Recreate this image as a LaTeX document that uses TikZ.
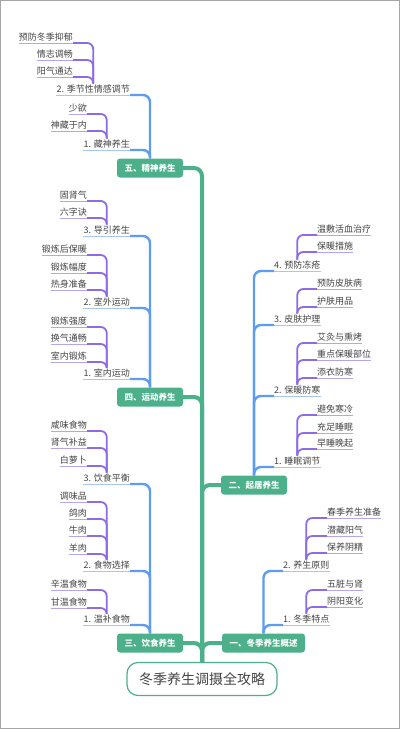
\documentclass[tikz,border=0pt]{standalone}
\usepackage{fontspec}
\newfontfamily\cjk{Noto Sans CJK SC}
\definecolor{mmgreen}{HTML}{4CB08A}
\definecolor{mmblue}{HTML}{5D9CF0}
\definecolor{mmpurple}{HTML}{8D6BE8}
\definecolor{ulpurple}{HTML}{B5A5EC}
\definecolor{ulblue}{HTML}{A7C6F3}
\definecolor{txtgray}{HTML}{444444}

\begin{document}
\begin{tikzpicture}[x=1pt,y=-1pt]
\tikzstyle{leaf}=[font=\cjk\fontsize{9}{10}\selectfont, text=txtgray, inner xsep=0pt, inner ysep=1pt, text height=7.5pt, text depth=1.5pt]
\tikzstyle{sec}=[font=\cjk\fontsize{8.5}{10}\selectfont\bfseries, text=white, fill=mmgreen, rounded corners=3pt, inner xsep=7.5pt, minimum height=19pt]
\tikzstyle{root}=[font=\cjk\fontsize{14}{16}\selectfont, text=txtgray, fill=white, draw=mmgreen, line width=1.2pt, rounded corners=11pt, inner xsep=12pt, minimum height=33pt]
\tikzstyle{ul}=[ulpurple, line width=0.8pt]
\tikzstyle{ulb}=[ulblue, line width=0.8pt]
\tikzstyle{brk}=[mmpurple, line width=1.8pt, rounded corners=6pt]
\tikzstyle{bra}=[mmblue, line width=2.4pt, rounded corners=7pt]
\tikzstyle{trunk}=[mmgreen, line width=4pt, rounded corners=8pt]
\useasboundingbox (0,0) rectangle (400,729);
\fill[white] (0,0) rectangle (400,729);
\draw[gray!70, line width=1pt] (0.5,0.5) rectangle (399.5,728.5);
%root
\node[root] (root) at (202,679) {冬季养生调摄全攻略};
%5
\node[sec] (s5) at (150,168) {五、精神养生};
\node[leaf, anchor=south east] (s5b) at (130,95) {2. 季节性情感调节};
\node[leaf, anchor=south east] (s5b1) at (73,43) {预防冬季抑郁};
\node[leaf, anchor=south east] (s5b2) at (73,60) {情志调畅};
\node[leaf, anchor=south east] (s5b3) at (73,77) {阳气通达};
\node[leaf, anchor=south east] (s5a) at (130,150) {1. 藏神养生};
\node[leaf, anchor=south east] (s5a1) at (87,114) {少欲};
\node[leaf, anchor=south east] (s5a2) at (87,131) {神藏于内};
%4
\node[sec] (s4) at (150,397) {四、运动养生};
\node[leaf, anchor=south east] (s4c) at (130,236) {3. 导引养生};
\node[leaf, anchor=south east] (s4c1) at (87,201) {固肾气};
\node[leaf, anchor=south east] (s4c2) at (87,218) {六字诀};
\node[leaf, anchor=south east] (s4b) at (130,308) {2. 室外运动};
\node[leaf, anchor=south east] (s4b1) at (87,255) {锻炼后保暖};
\node[leaf, anchor=south east] (s4b2) at (87,273) {锻炼幅度};
\node[leaf, anchor=south east] (s4b3) at (87,290) {热身准备};
\node[leaf, anchor=south east] (s4a) at (130,379) {1. 室内运动};
\node[leaf, anchor=south east] (s4a1) at (87,327) {锻炼强度};
\node[leaf, anchor=south east] (s4a2) at (87,344) {换气通畅};
\node[leaf, anchor=south east] (s4a3) at (87,362) {室内锻炼};
%3
\node[sec] (s3) at (150,643) {三、饮食养生};
\node[leaf, anchor=south east] (s3c) at (130,484) {3. 饮食平衡};
\node[leaf, anchor=south east] (s3c1) at (87,431) {咸味食物};
\node[leaf, anchor=south east] (s3c2) at (87,448) {肾气补益};
\node[leaf, anchor=south east] (s3c3) at (87,466) {白萝卜};
\node[leaf, anchor=south east] (s3b) at (130,571) {2. 食物选择};
\node[leaf, anchor=south east] (s3b1) at (87,502) {调味品};
\node[leaf, anchor=south east] (s3b2) at (87,519) {鸽肉};
\node[leaf, anchor=south east] (s3b3) at (87,536) {牛肉};
\node[leaf, anchor=south east] (s3b4) at (87,554) {羊肉};
\node[leaf, anchor=south east] (s3a) at (130,625) {1. 温补食物};
\node[leaf, anchor=south east] (s3a1) at (87,590) {辛温食物};
\node[leaf, anchor=south east] (s3a2) at (87,608) {甘温食物};
%2
\node[sec] (s2) at (254,485) {二、起居养生};
\node[leaf, anchor=south west] (s2d) at (274,271) {4. 预防冻疮};
\node[leaf, anchor=south west] (s2d1) at (317,235) {温敷活血治疗};
\node[leaf, anchor=south west] (s2d2) at (317,252) {保暖措施};
\node[leaf, anchor=south west] (s2c) at (274,325) {3. 皮肤护理};
\node[leaf, anchor=south west] (s2c1) at (317,289) {预防皮肤病};
\node[leaf, anchor=south west] (s2c2) at (317,307) {护肤用品};
\node[leaf, anchor=south west] (s2b) at (274,396) {2. 保暖防寒};
\node[leaf, anchor=south west] (s2b1) at (317,343) {艾灸与熏烤};
\node[leaf, anchor=south west] (s2b2) at (317,360) {重点保暖部位};
\node[leaf, anchor=south west] (s2b3) at (317,378) {添衣防寒};
\node[leaf, anchor=south west] (s2a) at (274,467) {1. 睡眠调节};
\node[leaf, anchor=south west] (s2a1) at (317,415) {避免寒冷};
\node[leaf, anchor=south west] (s2a2) at (317,433) {充足睡眠};
\node[leaf, anchor=south west] (s2a3) at (317,449) {早睡晚起};
%1
\node[sec] (s1) at (263.5,643) {一、冬季养生概述};
\node[leaf, anchor=south west] (s1b) at (283,571) {2. 养生原则};
\node[leaf, anchor=south west] (s1b1) at (327,518) {春季养生准备};
\node[leaf, anchor=south west] (s1b2) at (327,536) {潜藏阳气};
\node[leaf, anchor=south west] (s1b3) at (327,553) {保养阴精};
\node[leaf, anchor=south west] (s1a) at (283,625) {1. 冬季特点};
\node[leaf, anchor=south west] (s1a1) at (327,590) {五脏与肾};
\node[leaf, anchor=south west] (s1a2) at (327,607) {阴阳变化};
%trunk
\draw[trunk] (s5.east) -| (root.north);
\draw[trunk] (s4.east) -| (root.north);
\draw[trunk] (s3.east) -| (root.north);
\draw[trunk] (s2.west) -| (root.north);
\draw[trunk] (s1.west) -| (root.north);
%5 lines
\draw[ulb] (s5b.south west) -- (s5b.south east); \draw[bra] (s5b.south east) -| (s5.north);
\draw[ulb] (s5a.south west) -- (s5a.south east); \draw[bra] (s5a.south east) -| (s5.north);
\draw[ul] (s5b1.south west) -- (s5b1.south east); \draw[brk] (s5b1.south east) -| (s5b.north);
\draw[ul] (s5b2.south west) -- (s5b2.south east); \draw[brk] (s5b2.south east) -| (s5b.north);
\draw[ul] (s5b3.south west) -- (s5b3.south east); \draw[brk] (s5b3.south east) -| (s5b.north);
\draw[ul] (s5a1.south west) -- (s5a1.south east); \draw[brk] (s5a1.south east) -| (s5a.north);
\draw[ul] (s5a2.south west) -- (s5a2.south east); \draw[brk] (s5a2.south east) -| (s5a.north);
%4 lines
\draw[ulb] (s4c.south west) -- (s4c.south east); \draw[bra] (s4c.south east) -| (s4.north);
\draw[ulb] (s4b.south west) -- (s4b.south east); \draw[bra] (s4b.south east) -| (s4.north);
\draw[ulb] (s4a.south west) -- (s4a.south east); \draw[bra] (s4a.south east) -| (s4.north);
\draw[ul] (s4c1.south west) -- (s4c1.south east); \draw[brk] (s4c1.south east) -| (s4c.north);
\draw[ul] (s4c2.south west) -- (s4c2.south east); \draw[brk] (s4c2.south east) -| (s4c.north);
\draw[ul] (s4b1.south west) -- (s4b1.south east); \draw[brk] (s4b1.south east) -| (s4b.north);
\draw[ul] (s4b2.south west) -- (s4b2.south east); \draw[brk] (s4b2.south east) -| (s4b.north);
\draw[ul] (s4b3.south west) -- (s4b3.south east); \draw[brk] (s4b3.south east) -| (s4b.north);
\draw[ul] (s4a1.south west) -- (s4a1.south east); \draw[brk] (s4a1.south east) -| (s4a.north);
\draw[ul] (s4a2.south west) -- (s4a2.south east); \draw[brk] (s4a2.south east) -| (s4a.north);
\draw[ul] (s4a3.south west) -- (s4a3.south east); \draw[brk] (s4a3.south east) -| (s4a.north);
%3 lines
\draw[ulb] (s3c.south west) -- (s3c.south east); \draw[bra] (s3c.south east) -| (s3.north);
\draw[ulb] (s3b.south west) -- (s3b.south east); \draw[bra] (s3b.south east) -| (s3.north);
\draw[ulb] (s3a.south west) -- (s3a.south east); \draw[bra] (s3a.south east) -| (s3.north);
\draw[ul] (s3c1.south west) -- (s3c1.south east); \draw[brk] (s3c1.south east) -| (s3c.north);
\draw[ul] (s3c2.south west) -- (s3c2.south east); \draw[brk] (s3c2.south east) -| (s3c.north);
\draw[ul] (s3c3.south west) -- (s3c3.south east); \draw[brk] (s3c3.south east) -| (s3c.north);
\draw[ul] (s3b1.south west) -- (s3b1.south east); \draw[brk] (s3b1.south east) -| (s3b.north);
\draw[ul] (s3b2.south west) -- (s3b2.south east); \draw[brk] (s3b2.south east) -| (s3b.north);
\draw[ul] (s3b3.south west) -- (s3b3.south east); \draw[brk] (s3b3.south east) -| (s3b.north);
\draw[ul] (s3b4.south west) -- (s3b4.south east); \draw[brk] (s3b4.south east) -| (s3b.north);
\draw[ul] (s3a1.south west) -- (s3a1.south east); \draw[brk] (s3a1.south east) -| (s3a.north);
\draw[ul] (s3a2.south west) -- (s3a2.south east); \draw[brk] (s3a2.south east) -| (s3a.north);
%2 lines
\draw[ulb] (s2d.south west) -- (s2d.south east); \draw[bra] (s2d.south west) -| (s2.north);
\draw[ulb] (s2c.south west) -- (s2c.south east); \draw[bra] (s2c.south west) -| (s2.north);
\draw[ulb] (s2b.south west) -- (s2b.south east); \draw[bra] (s2b.south west) -| (s2.north);
\draw[ulb] (s2a.south west) -- (s2a.south east); \draw[bra] (s2a.south west) -| (s2.north);
\draw[ul] (s2d1.south west) -- (s2d1.south east); \draw[brk] (s2d1.south west) -| (s2d.north);
\draw[ul] (s2d2.south west) -- (s2d2.south east); \draw[brk] (s2d2.south west) -| (s2d.north);
\draw[ul] (s2c1.south west) -- (s2c1.south east); \draw[brk] (s2c1.south west) -| (s2c.north);
\draw[ul] (s2c2.south west) -- (s2c2.south east); \draw[brk] (s2c2.south west) -| (s2c.north);
\draw[ul] (s2b1.south west) -- (s2b1.south east); \draw[brk] (s2b1.south west) -| (s2b.north);
\draw[ul] (s2b2.south west) -- (s2b2.south east); \draw[brk] (s2b2.south west) -| (s2b.north);
\draw[ul] (s2b3.south west) -- (s2b3.south east); \draw[brk] (s2b3.south west) -| (s2b.north);
\draw[ul] (s2a1.south west) -- (s2a1.south east); \draw[brk] (s2a1.south west) -| (s2a.north);
\draw[ul] (s2a2.south west) -- (s2a2.south east); \draw[brk] (s2a2.south west) -| (s2a.north);
\draw[ul] (s2a3.south west) -- (s2a3.south east); \draw[brk] (s2a3.south west) -| (s2a.north);
%1 lines
\draw[ulb] (s1b.south west) -- (s1b.south east); \draw[bra] (s1b.south west) -| (s1.north);
\draw[ulb] (s1a.south west) -- (s1a.south east); \draw[bra] (s1a.south west) -| (s1.north);
\draw[ul] (s1b1.south west) -- (s1b1.south east); \draw[brk] (s1b1.south west) -| (s1b.north);
\draw[ul] (s1b2.south west) -- (s1b2.south east); \draw[brk] (s1b2.south west) -| (s1b.north);
\draw[ul] (s1b3.south west) -- (s1b3.south east); \draw[brk] (s1b3.south west) -| (s1b.north);
\draw[ul] (s1a1.south west) -- (s1a1.south east); \draw[brk] (s1a1.south west) -| (s1a.north);
\draw[ul] (s1a2.south west) -- (s1a2.south east); \draw[brk] (s1a2.south west) -| (s1a.north);
\end{tikzpicture}
\end{document}
